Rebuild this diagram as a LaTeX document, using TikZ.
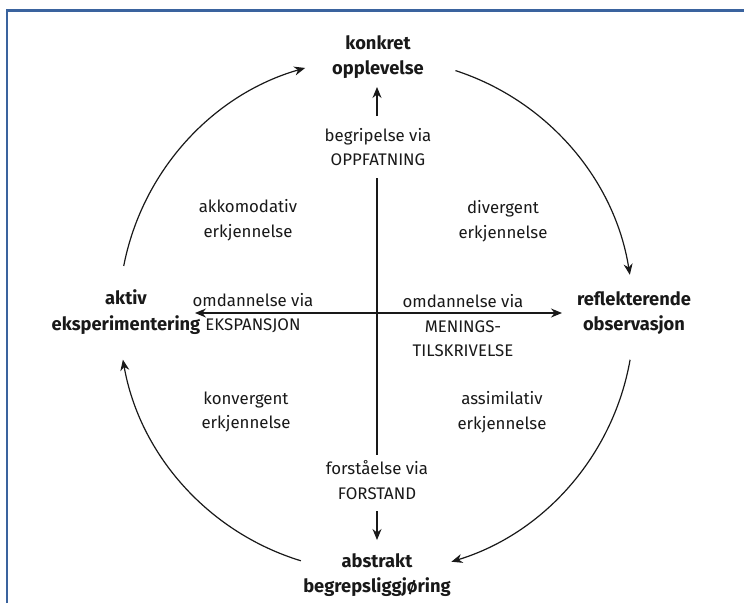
\documentclass[tikz,border=0pt]{standalone}
\usepackage{fontspec}
\setmainfont{Fira Sans}
\usetikzlibrary{arrows.meta}
\definecolor{frameblue}{RGB}{58,99,158}
\definecolor{ink}{RGB}{25,25,25}
\begin{document}
\begin{tikzpicture}[x=1pt,y=-1pt,
  lbl/.style={align=center, text=ink, font=\fontsize{16.8}{24.5}\selectfont, inner sep=0pt},
  key/.style={align=center, text=ink, font=\fontsize{18.3}{25.5}\selectfont\bfseries, inner sep=0pt},
  arr/.style={draw=ink, line width=1.2pt, -{Stealth[length=11pt,width=9pt]}},
  plain/.style={draw=ink, line width=1.2pt},
  frame/.style={draw=frameblue, line width=2.5pt}]
\useasboundingbox (0,0) rectangle (744,603);
\fill[white] (0,0) rectangle (744,603);
% frame (cropped at right and bottom)
\coordinate (fa) at (7,603);
\coordinate (fb) at (7,10.5);
\coordinate (fc) at (746,10.5);
\draw[frame] (fa) -- (fb) -- (fc);

% main stage labels
\node[key] (ko) at (378,57) {konkret\\opplevelse};
\node[key] (ak) at (126,312) {aktiv\\eksperimentering};
\node[key] (re) at (634,313) {reflekterende\\observasjon};
\node[key] (ab) at (377,575) {abstrakt\\begrepsliggjøring};

% axis labels
\node[lbl] (op) at (378,147) {begripelse via\\OPPFATNING};
\node[lbl] (fo) at (377,480) {forståelse via\\FORSTAND};
\node[lbl] (ek) at (253,313) {omdannelse via\\EKSPANSJON};
\node[lbl] (me) at (463,326) {omdannelse via\\MENINGS-\\TILSKRIVELSE};

% quadrant labels
\node[lbl] (q1) at (248,220) {akkomodativ\\erkjennelse};
\node[lbl] (q2) at (503,221) {divergent\\erkjennelse};
\node[lbl] (q3) at (246,412) {konvergent\\erkjennelse};
\node[lbl] (q4) at (502,412) {assimilativ\\erkjennelse};

% axes
\coordinate (vt) at (377,178);
\coordinate (vb) at (377,455);
\draw[plain] (vt) -- (vb);
\coordinate (hl) at (195,313);
\coordinate (hr) at (562,313);
\draw[plain, {Stealth[length=11pt,width=9pt]}-{Stealth[length=11pt,width=9pt]}] (hl) -- (hr);
\coordinate (ua) at (377,116);
\coordinate (ub) at (377,87);
\draw[arr] (ua) -- (ub);
\coordinate (da) at (377,511);
\coordinate (db) at (377,540);
\draw[arr] (da) -- (db);

% cycle arcs
\coordinate (c) at (376,315);
\draw[arr] (c) ++(191:257) arc[start angle=191, end angle=254, radius=257];
\draw[arr] (c) ++(288:257) arc[start angle=288, end angle=351, radius=257];
\draw[arr] (c) ++(10:258) arc[start angle=10, end angle=73, radius=258];
\draw[arr] (c) ++(107:257) arc[start angle=107, end angle=170, radius=257];
\end{tikzpicture}
\end{document}
